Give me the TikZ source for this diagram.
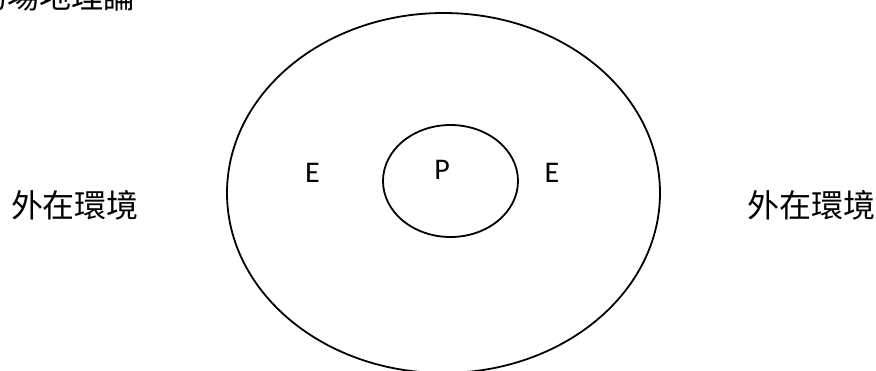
\documentclass[tikz,border=0pt]{standalone}
\usepackage{fontspec}
\setmainfont{Carlito}
\newfontfamily\cjk{Noto Sans CJK TC}
\usetikzlibrary{shapes.geometric}
\tikzset{
  ring/.style={draw=black, line width=1.8pt, ellipse, inner sep=0pt},
  lbl/.style={font=\fontsize{30}{32}\selectfont, inner sep=0pt},
  cjklbl/.style={font=\cjk\fontsize{32}{34}\selectfont, inner sep=0pt}
}
\begin{document}
\begin{tikzpicture}[x=1pt,y=-1pt]
\useasboundingbox (0,0) rectangle (876,370);
\node[ring, minimum width=433pt, minimum height=360pt] (outer) at (443.5,193) {};
\node[ring, minimum width=135pt, minimum height=112pt] (inner) at (450.5,181) {};
\node[lbl] (eleft) at (312.5,172.5) {E};
\node[lbl] (p) at (442,169.5) {P};
\node[lbl] (eright) at (552,172.5) {E};
\node[cjklbl] (envleft) at (75,205) {外在環境};
\node[cjklbl] (envright) at (811.5,205) {外在環境};
\node[cjklbl, anchor=base east] (title) at (136,8) {的場地理論};
\end{tikzpicture}
\end{document}
